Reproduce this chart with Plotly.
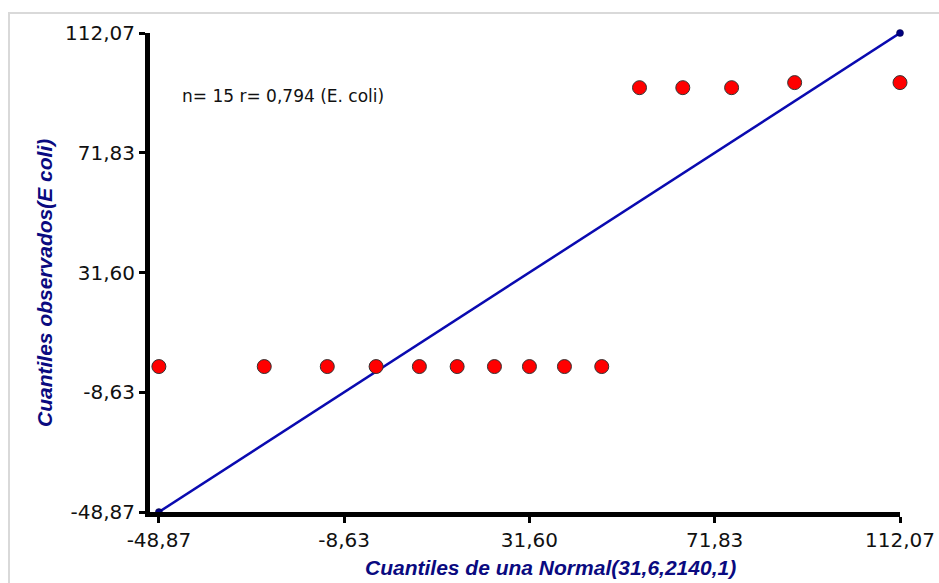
import plotly.graph_objects as go

# Theoretical normal quantiles (x) and observed quantiles (y)
x_theo = [-48.87, -25.99, -12.30, -1.70, 7.70, 15.90, 24.00, 31.60,
          39.20, 47.30, 55.50, 64.90, 75.50, 89.19, 112.07]
y_obs = [0, 0, 0, 0, 0, 0, 0, 0, 0, 0, 93.7, 93.7, 93.7, 95.4, 95.4]

# Reference line (y = x) endpoints
line_x = [-48.87, 112.07]
line_y = [-48.87, 112.07]

tick_vals = [-48.87, -8.63, 31.60, 71.83, 112.07]
tick_text = ["-48,87", "-8,63", "31,60", "71,83", "112,07"]

fig = go.Figure()
fig.add_trace(go.Scatter(
    x=line_x, y=line_y, mode="lines+markers",
    line=dict(color="#0a0ab0", width=2.5),
    marker=dict(color="#000080", size=7, line=dict(color="#000040", width=0.5)),
    cliponaxis=False, showlegend=False, hoverinfo="skip"))
fig.add_trace(go.Scatter(
    x=x_theo, y=y_obs, mode="markers",
    marker=dict(color="#ff0000", size=14, line=dict(color="#333333", width=1)),
    cliponaxis=False, showlegend=False))

tickfont = dict(family="DejaVu Sans", size=20, color="#111111")
fig.update_xaxes(range=[-50.8, 112.07], tickvals=tick_vals, ticktext=tick_text,
                 showgrid=False, zeroline=False, showline=True, linecolor="black",
                 linewidth=5, ticks="outside", ticklen=6, tickwidth=3, tickcolor="black",
                 tickfont=tickfont, automargin=False)
fig.update_yaxes(range=[-48.87, 112.07], tickvals=tick_vals, ticktext=tick_text,
                 showgrid=False, zeroline=False, showline=True, linecolor="black",
                 linewidth=5, ticks="outside", ticklen=6, tickwidth=3, tickcolor="black",
                 tickfont=tickfont, automargin=False)

title_font = dict(family="Liberation Sans", size=21, color="#0a0a80")
fig.add_annotation(text="<b><i>Cuantiles de una Normal(31,6,2140,1)</i></b>",
                   xref="paper", yref="paper", x=(550 - 150) / 750, y=(512 - 567) / 479,
                   xanchor="center", yanchor="middle", showarrow=False, font=title_font)
fig.add_annotation(text="<b><i>Cuantiles observados(E coli)</i></b>",
                   xref="paper", yref="paper", x=(44 - 150) / 750, y=(512 - 283) / 479,
                   xanchor="center", yanchor="middle", textangle=-90, showarrow=False,
                   font=title_font)
fig.add_annotation(text="n= 15 r= 0,794 (E. coli)",
                   xref="paper", yref="paper", x=(180 - 150) / 750, y=(512 - 96) / 479,
                   xanchor="left", yanchor="middle", showarrow=False,
                   font=dict(family="DejaVu Sans", size=17, color="#111111"))

# light grey frame
fig.add_shape(type="rect", xref="paper", yref="paper",
              x0=(9 - 150) / 750, x1=1.2, y0=-0.3, y1=(512 - 13) / 479,
              line=dict(color="#d9d9d9", width=2), fillcolor="rgba(0,0,0,0)", layer="below")

fig.update_layout(width=939, height=583, margin=dict(l=150, r=39, t=33, b=71, autoexpand=False),
                  paper_bgcolor="white", plot_bgcolor="white")
fig.write_html("out.html")
